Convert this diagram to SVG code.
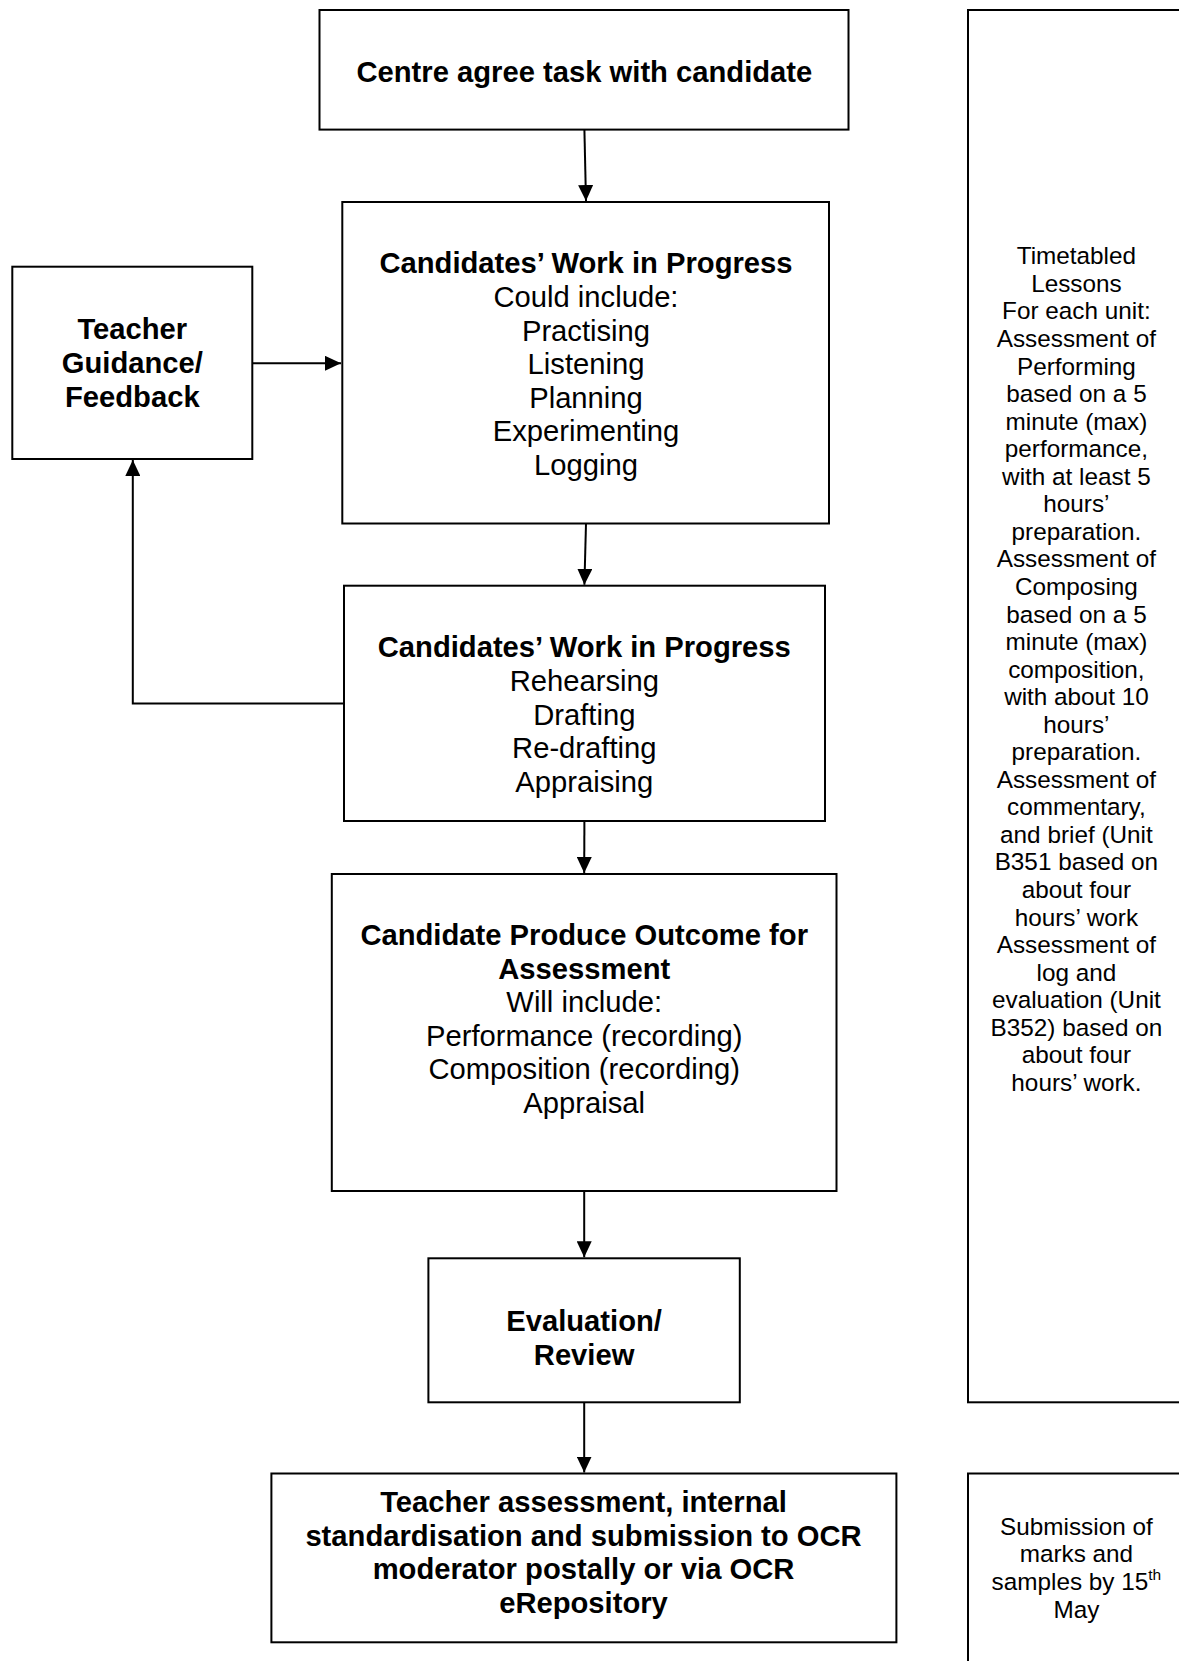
<svg xmlns="http://www.w3.org/2000/svg" width="1179" height="1661" viewBox="0 0 1179 1661">
<style>
.box{fill:#fff;stroke:#000;stroke-width:2}
.ln{fill:none;stroke:#000;stroke-width:2}
text{font-family:"Liberation Sans",Arial,sans-serif;fill:#000;text-anchor:middle}
.b{font-size:29.2px;font-weight:bold}
.r{font-size:29.2px}
.s{font-size:24.3px}
</style>
<defs>
<marker id="ah" markerUnits="userSpaceOnUse" markerWidth="17" markerHeight="15" refX="16" refY="7.5" orient="auto" viewBox="0 0 17 15">
<path d="M0,0 L16,7.5 L0,15 z" fill="#000"/>
</marker>
</defs>
<rect width="1179" height="1661" fill="#fff"/>

<g id="connectors">
<line class="ln" x1="584.4" y1="129.6" x2="586" y2="201" marker-end="url(#ah)"/>
<line class="ln" x1="252.3" y1="363.3" x2="341" y2="363.3" marker-end="url(#ah)"/>
<line class="ln" x1="586" y1="523.5" x2="584.4" y2="584.8" marker-end="url(#ah)"/>
<polyline class="ln" points="344,703.5 132.8,703.5 132.8,460" marker-end="url(#ah)"/>
<line class="ln" x1="584.4" y1="821" x2="584.2" y2="873" marker-end="url(#ah)"/>
<line class="ln" x1="584.2" y1="1191" x2="584.2" y2="1257.3" marker-end="url(#ah)"/>
<line class="ln" x1="584.2" y1="1402.3" x2="584.2" y2="1472.5" marker-end="url(#ah)"/>
</g>

<g id="centre-agree">
<rect class="box" x="319.5" y="10" width="529" height="119.6"/>
<text class="b" x="584.4" y="82">Centre agree task with candidate</text>
</g>

<g id="teacher-guidance">
<rect class="box" x="12.3" y="266.7" width="240" height="192.3"/>
<text class="b" x="132.3" y="339.3">Teacher</text>
<text class="b" x="132.3" y="372.9">Guidance/</text>
<text class="b" x="132.3" y="406.5">Feedback</text>
</g>

<g id="work-in-progress-1">
<rect class="box" x="342.3" y="202" width="486.7" height="321.5"/>
<text class="b" x="586" y="273.3">Candidates’ Work in Progress</text>
<text class="r" x="586" y="306.9">Could include:</text>
<text class="r" x="586" y="340.5">Practising</text>
<text class="r" x="586" y="374.1">Listening</text>
<text class="r" x="586" y="407.7">Planning</text>
<text class="r" x="586" y="441.3">Experimenting</text>
<text class="r" x="586" y="474.9">Logging</text>
</g>

<g id="work-in-progress-2">
<rect class="box" x="344" y="585.7" width="481" height="235.3"/>
<text class="b" x="584.3" y="657.3">Candidates’ Work in Progress</text>
<text class="r" x="584.3" y="690.9">Rehearsing</text>
<text class="r" x="584.3" y="724.5">Drafting</text>
<text class="r" x="584.3" y="758.1">Re-drafting</text>
<text class="r" x="584.3" y="791.7">Appraising</text>
</g>

<g id="produce-outcome">
<rect class="box" x="331.8" y="874" width="504.7" height="317"/>
<text class="b" x="584.2" y="945">Candidate Produce Outcome for</text>
<text class="b" x="584.2" y="978.5">Assessment</text>
<text class="r" x="584.2" y="1012">Will include:</text>
<text class="r" x="584.2" y="1045.5">Performance (recording)</text>
<text class="r" x="584.2" y="1079">Composition (recording)</text>
<text class="r" x="584.2" y="1112.5">Appraisal</text>
</g>

<g id="evaluation-review">
<rect class="box" x="428.4" y="1258.3" width="311.4" height="144"/>
<text class="b" x="584.1" y="1331">Evaluation/</text>
<text class="b" x="584.1" y="1364.6">Review</text>
</g>

<g id="teacher-assessment">
<rect class="box" x="271.4" y="1473.5" width="625" height="168.8"/>
<text class="b" x="583.5" y="1512">Teacher assessment, internal</text>
<text class="b" x="583.5" y="1545.6">standardisation and submission to OCR</text>
<text class="b" x="583.5" y="1579.2">moderator postally or via OCR</text>
<text class="b" x="583.5" y="1612.8">eRepository</text>
</g>

<g id="timetabled-lessons">
<rect class="box" x="968" y="10" width="230" height="1392.3"/>
<text class="s" x="1076.4" y="264.3">Timetabled</text>
<text class="s" x="1076.4" y="291.9">Lessons</text>
<text class="s" x="1076.4" y="319.4">For each unit:</text>
<text class="s" x="1076.4" y="347">Assessment of</text>
<text class="s" x="1076.4" y="374.5">Performing</text>
<text class="s" x="1076.4" y="402.1">based on a 5</text>
<text class="s" x="1076.4" y="429.6">minute (max)</text>
<text class="s" x="1076.4" y="457.2">performance,</text>
<text class="s" x="1076.4" y="484.7">with at least 5</text>
<text class="s" x="1076.4" y="512.3">hours’</text>
<text class="s" x="1076.4" y="539.8">preparation.</text>
<text class="s" x="1076.4" y="567.4">Assessment of</text>
<text class="s" x="1076.4" y="594.9">Composing</text>
<text class="s" x="1076.4" y="622.5">based on a 5</text>
<text class="s" x="1076.4" y="650">minute (max)</text>
<text class="s" x="1076.4" y="677.6">composition,</text>
<text class="s" x="1076.4" y="705.1">with about 10</text>
<text class="s" x="1076.4" y="732.7">hours’</text>
<text class="s" x="1076.4" y="760.2">preparation.</text>
<text class="s" x="1076.4" y="787.8">Assessment of</text>
<text class="s" x="1076.4" y="815.3">commentary,</text>
<text class="s" x="1076.4" y="842.9">and brief (Unit</text>
<text class="s" x="1076.4" y="870.4">B351 based on</text>
<text class="s" x="1076.4" y="898">about four</text>
<text class="s" x="1076.4" y="925.5">hours’ work</text>
<text class="s" x="1076.4" y="953.1">Assessment of</text>
<text class="s" x="1076.4" y="980.6">log and</text>
<text class="s" x="1076.4" y="1008.2">evaluation (Unit</text>
<text class="s" x="1076.4" y="1035.7">B352) based on</text>
<text class="s" x="1076.4" y="1063.3">about four</text>
<text class="s" x="1076.4" y="1090.8">hours’ work.</text>
</g>

<g id="submission-of-marks">
<rect class="box" x="968" y="1473.5" width="230" height="200"/>
<text class="s" x="1076.4" y="1534.7">Submission of</text>
<text class="s" x="1076.4" y="1562.4">marks and</text>
<text class="s" x="1076.4" y="1590.2">samples by 15<tspan font-size="15.5px" dy="-10">th</tspan></text>
<text class="s" x="1076.4" y="1618">May</text>
</g>
</svg>
